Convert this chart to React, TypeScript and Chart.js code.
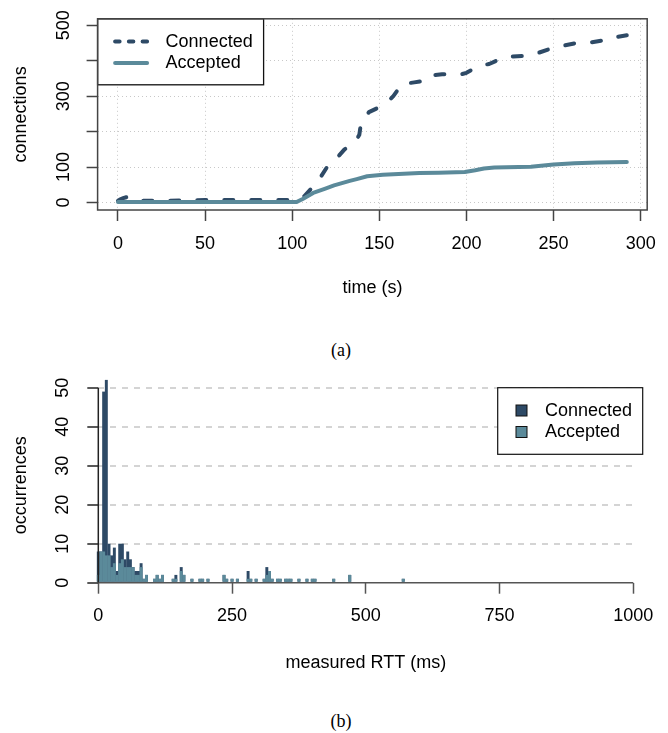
import React, { useEffect, useRef } from 'react';
import { Chart, registerables } from 'chart.js';

Chart.register(...registerables);

// ---------- data: (a) connections over time ----------
const connTime = [0, 1, 3, 5, 7, 9, 15, 30, 50, 80, 100, 104, 107, 112, 115, 120, 125, 130, 136, 138.5, 139.5, 144, 150, 156, 158, 163, 170, 179, 181, 186, 197, 200, 207, 213, 221, 225, 235, 241, 250, 255, 262, 269, 278, 282, 287, 292];
const connCount = [5, 8, 12, 15, 8, 5, 5, 5, 7, 7, 7, 8, 18, 45, 62, 100, 122, 150, 170, 191, 226, 255, 269, 290, 300, 334, 339, 346, 359, 362, 362, 366, 385, 391, 408, 412, 414, 422, 437, 442, 449, 450, 457, 466, 468, 472];
const accTime = [0, 50, 102.5, 106, 112, 119, 124, 133, 137, 143, 152, 173, 184, 199, 205, 210, 216, 237, 250, 262, 275, 292];
const accCount = [1, 1, 1, 10, 27, 39, 48, 61, 66, 74, 78, 83, 84, 86, 91, 96, 99, 101, 107, 111, 113, 114];

const xTicksA = [0, 50, 100, 150, 200, 250, 300];
const yTicksA = [0, 100, 200, 300, 400, 500];
const yLabelsA = [0, 100, 300, 500];

// ---------- data: (b) RTT histogram (5 ms bins, bin centre in ms) ----------
const rttBinMs = [0, 5, 10, 15, 20, 25, 30, 35, 40, 45, 50, 55, 60, 65, 70, 75, 80, 85, 90, 105, 110, 115, 120, 140, 145, 155, 160, 175, 190, 195, 205, 235, 240, 250, 260, 280, 285, 295, 310, 315, 320, 325, 335, 340, 350, 355, 360, 375, 390, 400, 405, 440, 470, 570];
const rttConnected = [8, 8, 49, 52, 10, 7, 9, 3, 10, 10, 6, 8, 6, 4, 3, 3, 5, 1, 2, 1, 2, 1, 2, 1, 2, 4, 2, 1, 1, 1, 1, 2, 1, 1, 1, 3, 1, 1, 1, 4, 3, 1, 1, 1, 1, 1, 1, 1, 1, 1, 1, 1, 2, 1];
const rttAccepted = [2, 8, 8, 7, 7, 4, 5, 2, 5, 6, 4, 4, 4, 4, 2, 2, 4, 1, 2, 1, 2, 1, 2, 1, 1, 3, 2, 1, 1, 1, 1, 2, 1, 1, 1, 1, 1, 1, 1, 2, 3, 1, 1, 1, 1, 1, 1, 1, 1, 1, 1, 1, 2, 1];

const xTicksB = [0, 250, 500, 750, 1000];
const yTicksB = [0, 10, 20, 30, 40, 50];

const seriesNames = ['Connected', 'Accepted'];
const C_CONN = '#2e4a66';
const C_ACC = '#5b8a9a';
const SANS = "'Liberation Sans', Arial, Helvetica, sans-serif";
const SERIF = "'Liberation Serif', 'Times New Roman', serif";

const setTicks = (values: number[]) => (axis: any) => {
  axis.ticks = values.map((v) => ({ value: v }));
};

const topDecor = {
  id: 'topDecor',
  afterDraw(chart: any) {
    const { ctx, chartArea: a } = chart;
    ctx.save();
    // legend
    const lx = a.left, ly = a.top, lw = 166, lh = 66;
    ctx.fillStyle = '#ffffff';
    ctx.fillRect(lx, ly, lw, lh);
    ctx.lineCap = 'round';
    ctx.lineWidth = 4;
    ctx.strokeStyle = C_CONN;
    ctx.setLineDash([4.5, 9.25]);
    ctx.beginPath();
    ctx.moveTo(lx + 17.5, ly + 22.7);
    ctx.lineTo(lx + 50, ly + 22.7);
    ctx.stroke();
    ctx.setLineDash([]);
    ctx.strokeStyle = C_ACC;
    ctx.beginPath();
    ctx.moveTo(lx + 17.5, ly + 44.3);
    ctx.lineTo(lx + 49.5, ly + 44.3);
    ctx.stroke();
    ctx.fillStyle = '#000';
    ctx.font = `18px ${SANS}`;
    ctx.textBaseline = 'middle';
    ctx.textAlign = 'left';
    ctx.fillText(seriesNames[0], lx + 68, ly + 23);
    ctx.fillText(seriesNames[1], lx + 68, ly + 44.6);
    ctx.lineCap = 'butt';
    ctx.lineWidth = 1.3;
    ctx.strokeStyle = '#111';
    ctx.strokeRect(lx, ly, lw, lh);
    // plot box
    ctx.lineWidth = 1.5;
    ctx.strokeStyle = '#444';
    ctx.strokeRect(a.left, a.top, a.right - a.left, a.bottom - a.top);
    ctx.restore();
  },
};

const bottomDecor = {
  id: 'bottomDecor',
  afterDraw(chart: any) {
    const { ctx, chartArea: a, scales } = chart;
    const xs = scales.x, ys = scales.y;
    ctx.save();
    ctx.setLineDash([]);
    // axis lines
    ctx.lineWidth = 1.5;
    ctx.strokeStyle = '#555';
    const y0 = ys.getPixelForValue(0);
    ctx.beginPath();
    ctx.moveTo(xs.getPixelForValue(xTicksB[0]), y0);
    ctx.lineTo(xs.getPixelForValue(xTicksB[xTicksB.length - 1]), y0);
    ctx.stroke();
    ctx.strokeStyle = '#222';
    ctx.beginPath();
    ctx.moveTo(a.left, ys.getPixelForValue(yTicksB[0]));
    ctx.lineTo(a.left, ys.getPixelForValue(yTicksB[yTicksB.length - 1]));
    ctx.stroke();
    // legend
    const lx = a.right - 135.6, ly = a.top, lw = 145, lh = 66.6;
    ctx.fillStyle = '#fff';
    ctx.fillRect(lx, ly, lw, lh);
    ctx.lineWidth = 1.2;
    ctx.strokeStyle = '#111';
    ctx.strokeRect(lx, ly, lw, lh);
    const sw = 11;
    [C_CONN, C_ACC].forEach((c, i) => {
      const cy = ly + 22.8 + i * 21.5;
      ctx.fillStyle = c;
      ctx.fillRect(lx + 23.8 - sw / 2, cy - sw / 2, sw, sw);
      ctx.lineWidth = 1;
      ctx.strokeStyle = '#111';
      ctx.strokeRect(lx + 23.8 - sw / 2, cy - sw / 2, sw, sw);
      ctx.fillStyle = '#000';
      ctx.font = `18px ${SANS}`;
      ctx.textBaseline = 'middle';
      ctx.textAlign = 'left';
      ctx.fillText(seriesNames[i], lx + 47.3, cy + 0.5);
    });
    ctx.restore();
  },
};

const tickFont = { size: 18, family: SANS };

export default function App() {
  const r1 = useRef<HTMLCanvasElement>(null);
  const r2 = useRef<HTMLCanvasElement>(null);

  useEffect(() => {
    Chart.defaults.font.family = SANS;
    Chart.defaults.color = '#000';
    const c1 = new Chart(r1.current as HTMLCanvasElement, {
      type: 'line',
      data: {
        datasets: [
          {
            label: seriesNames[0],
            data: connTime.map((t, i) => ({ x: t, y: connCount[i] })),
            borderColor: C_CONN,
            borderWidth: 4,
            borderDash: [9, 18],
            borderCapStyle: 'round',
            borderJoinStyle: 'round',
            pointRadius: 0,
            tension: 0,
            fill: false,
            order: 2,
          },
          {
            label: seriesNames[1],
            data: accTime.map((t, i) => ({ x: t, y: accCount[i] })),
            borderColor: C_ACC,
            borderWidth: 4,
            borderCapStyle: 'round',
            borderJoinStyle: 'round',
            pointRadius: 0,
            tension: 0,
            fill: false,
            order: 1,
          },
        ],
      } as any,
      options: {
        animation: false,
        responsive: false,
        events: [],
        layout: { padding: { left: 10, top: 15, right: 20.6, bottom: 0 } },
        plugins: { legend: { display: false }, tooltip: { enabled: false } },
        scales: {
          x: {
            type: 'linear',
            min: -11.7,
            max: 303.7,
            afterBuildTicks: setTicks(xTicksA),
            afterFit: (s: any) => { s.height = 89; },
            grid: { color: '#c8c8c8', lineWidth: 1, drawTicks: true, tickLength: 11, tickColor: '#444', tickWidth: 1.5, tickBorderDash: [] },
            border: { display: false, dash: [1, 3] },
            ticks: { padding: 12, font: tickFont, color: '#000', maxRotation: 0, minRotation: 0, autoSkip: false, callback: (v: any) => String(v) },
            title: { display: true, text: 'time (s)', font: tickFont, color: '#000', padding: 0 },
          },
          y: {
            type: 'linear',
            min: -21.3,
            max: 518.5,
            afterBuildTicks: setTicks(yTicksA),
            afterFit: (s: any) => { s.width = 87.6; },
            grid: { color: '#c8c8c8', lineWidth: 1, drawTicks: true, tickLength: 11, tickColor: '#444', tickWidth: 1.5, tickBorderDash: [] },
            border: { display: false, dash: [1, 3] },
            ticks: { padding: 8, font: tickFont, color: '#000', minRotation: 90, maxRotation: 90, crossAlign: 'center', autoSkip: false, callback: (v: any) => (yLabelsA.includes(v) ? String(v) : '') },
            title: { display: true, text: 'connections', font: tickFont, color: '#000', padding: 0 },
          },
        },
      } as any,
      plugins: [topDecor],
    });

    const c2 = new Chart(r2.current as HTMLCanvasElement, {
      type: 'bar',
      data: {
        datasets: [
          {
            label: seriesNames[0],
            data: rttBinMs.map((x, i) => ({ x, y: rttConnected[i] })),
            backgroundColor: C_CONN,
            borderWidth: 0,
            grouped: false,
            barPercentage: 1,
            categoryPercentage: 1.1,
            clip: false,
            order: 2,
          },
          {
            label: seriesNames[1],
            data: rttBinMs.map((x, i) => ({ x, y: rttAccepted[i] })),
            backgroundColor: C_ACC,
            borderWidth: 0,
            grouped: false,
            barPercentage: 1,
            categoryPercentage: 1.1,
            clip: false,
            order: 1,
          },
        ],
      } as any,
      options: {
        animation: false,
        responsive: false,
        events: [],
        layout: { padding: { left: 10, top: 27.7, right: 34.7, bottom: 0 } },
        plugins: { legend: { display: false }, tooltip: { enabled: false } },
        scales: {
          x: {
            type: 'linear',
            min: 0,
            max: 1000,
            offset: false,
            afterBuildTicks: setTicks(xTicksB),
            afterFit: (s: any) => { s.height = 91.3; },
            grid: { offset: false, drawOnChartArea: false, drawTicks: true, tickLength: 11, tickColor: '#555', tickWidth: 1.5, tickBorderDash: [] },
            border: { display: false },
            ticks: { padding: 12, font: tickFont, color: '#000', maxRotation: 0, minRotation: 0, autoSkip: false, callback: (v: any) => String(v) },
            title: { display: true, text: 'measured RTT (ms)', font: tickFont, color: '#000', padding: 0 },
          },
          y: {
            type: 'linear',
            min: 0,
            max: 50,
            afterBuildTicks: setTicks(yTicksB),
            afterFit: (s: any) => { s.width = 88.3; },
            grid: {
              color: (ctx: any) => (ctx.tick && ctx.tick.value === 0 ? 'rgba(0,0,0,0)' : '#d4d4d4'),
              lineWidth: 2,
              drawTicks: true,
              tickLength: 11,
              tickColor: '#222',
              tickWidth: 1.5,
              tickBorderDash: [],
            },
            border: { display: false, dash: [6, 6] },
            ticks: { padding: 13.8, font: tickFont, color: '#000', minRotation: 90, maxRotation: 90, crossAlign: 'center', autoSkip: false, callback: (v: any) => String(v) },
            title: { display: true, text: 'occurrences', font: tickFont, color: '#000', padding: 0 },
          },
        },
      } as any,
      plugins: [bottomDecor],
    });

    return () => {
      c1.destroy();
      c2.destroy();
    };
  }, []);

  const caption: React.CSSProperties = {
    position: 'absolute',
    left: 0,
    width: 682,
    textAlign: 'center',
    fontFamily: SERIF,
    fontSize: 18,
    lineHeight: '20px',
    color: '#000',
  };

  return (
    <div style={{ position: 'absolute', left: 0, top: 0, width: 668, height: 733, background: '#fff' }}>
      <canvas ref={r1} width={668} height={299} style={{ position: 'absolute', left: 0, top: 0, width: 668, height: 299 }} />
      <div style={{ ...caption, top: 340 }}>(a)</div>
      <canvas ref={r2} width={668} height={314} style={{ position: 'absolute', left: 0, top: 360, width: 668, height: 314 }} />
      <div style={{ ...caption, top: 711 }}>(b)</div>
    </div>
  );
}
